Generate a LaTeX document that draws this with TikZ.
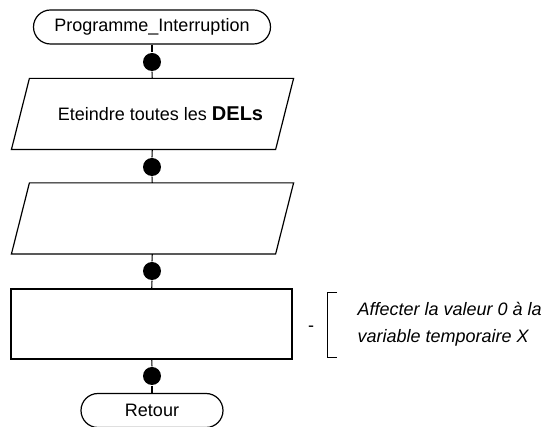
\documentclass[tikz,border=0pt]{standalone}
\usepackage{fontspec}
\setmainfont{Liberation Sans}

\begin{document}
\begin{tikzpicture}[x=1pt,y=-1pt,line width=1.2pt,
	font=\fontsize{18}{22}\selectfont,
	terminal/.style={draw,rounded corners=17pt,minimum height=34pt,inner sep=0pt},
	io/.style={rectangle,minimum width=263pt,minimum height=70pt,inner sep=0pt,
		append after command={\pgfextra{\draw ([xshift=9pt]\tikzlastnode.north west)
			-- ([xshift=9pt]\tikzlastnode.north east) -- ([xshift=-9pt]\tikzlastnode.south east)
			-- ([xshift=-9pt]\tikzlastnode.south west) -- cycle;}}},
	process/.style={draw,rectangle,minimum width=281pt,minimum height=70pt,inner sep=0pt},
	joint/.style={circle,fill,minimum size=18pt,inner sep=0pt}]
	\useasboundingbox (0,0) rectangle (550,427);
	% chain
	\node[terminal,minimum width=237pt] (debut) at (152,27) {Programme\_Interruption};
	\node[joint] (j1) at (152,62) {};
	\node[io] (sortie) at (152.5,114) {\hspace*{16pt}Eteindre toutes les {\fontsize{20}{24}\selectfont\bfseries DELs}};
	\node[joint] (j2) at (152,167) {};
	\node[io] (entree) at (152.5,218.5) {};
	\node[joint] (j3) at (152,271) {};
	\node[process] (affect) at (151.5,324) {};
	\node[joint] (j4) at (152,376) {};
	\node[terminal,minimum width=142pt] (fin) at (152,410.5) {Retour};
	\path
	(debut)		edge	(j1)
	(j1)		edge	(sortie)
	(sortie)	edge	(j2)
	(j2)		edge	(entree)
	(entree)	edge	(j3)
	(j3)		edge	(affect)
	(affect)	edge	(j4)
	(j4)		edge	(fin);
	% comment
	\node[anchor=base,inner sep=0pt] (tiret) at (311,332) {-};
	\node[anchor=north west,inner sep=0pt,align=left,font=\itshape\fontsize{18}{27}\selectfont]
		(note) at (357,302) {Affecter la valeur 0 à la\\variable temporaire X};
	\draw[line width=1pt] (337,293) -| (327,358) -- (337,358);
\end{tikzpicture}
\end{document}
